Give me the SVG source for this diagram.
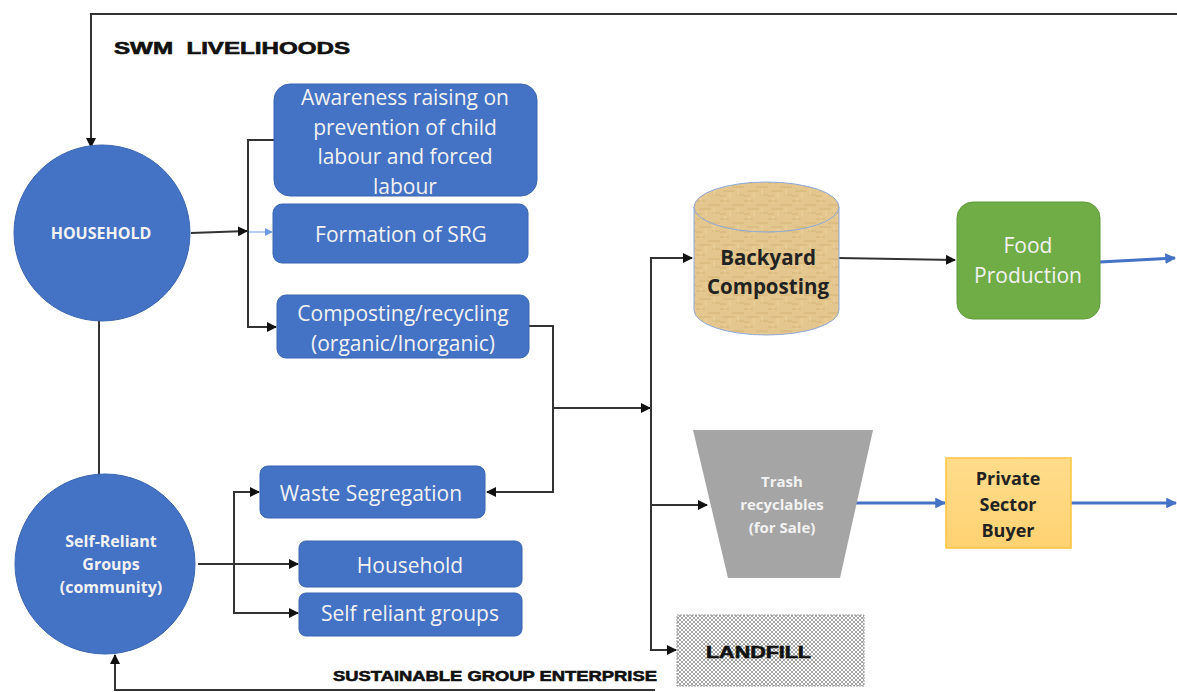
<svg xmlns="http://www.w3.org/2000/svg" width="1177" height="692" viewBox="0 0 1177 692">
<defs>
<style>
.box{fill:#4472C4;stroke:#3A65B0;stroke-width:1}
.bt{font-family:"Open Sans",Lato,sans-serif;font-size:21px;fill:#F2F2F2;text-anchor:middle;dominant-baseline:central}
.ct{font-family:"Open Sans",Lato,sans-serif;font-weight:bold;fill:#F2F2F2;text-anchor:middle;dominant-baseline:central}
.hd{font-family:"Liberation Sans",Arial,sans-serif;font-weight:bold;fill:#111;stroke:#111;stroke-width:0.6;dominant-baseline:central}
.dk{font-family:"Open Sans",Lato,sans-serif;font-weight:bold;fill:#222;text-anchor:middle;dominant-baseline:central}
.ln{fill:none;stroke:#333;stroke-width:2}
.bl{fill:none;stroke:#4472C4;stroke-width:3}
</style>
<marker id="ah" viewBox="0 0 10 10" refX="9" refY="5" markerWidth="5" markerHeight="5" orient="auto-start-reverse" markerUnits="strokeWidth"><path d="M0 0 L10 5 L0 10 z" fill="#111"/></marker>
<marker id="ab" viewBox="0 0 10 10" refX="9" refY="5" markerWidth="3.6" markerHeight="3.6" orient="auto" markerUnits="strokeWidth"><path d="M0 0 L10 5 L0 10 z" fill="#4472C4"/></marker>
<marker id="al" viewBox="0 0 10 10" refX="9" refY="5" markerWidth="8" markerHeight="8" orient="auto" markerUnits="strokeWidth"><path d="M0 0 L10 5 L0 10 z" fill="#6F9BE0"/></marker>
<pattern id="hatch" width="4" height="4" patternUnits="userSpaceOnUse">
<rect width="4" height="4" fill="#FFFFFF"/>
<path d="M0 4 L4 0 M0 0 L4 4" stroke="#8C8C8C" stroke-width="0.8"/>
</pattern>
<pattern id="papyrus" width="24" height="18" patternUnits="userSpaceOnUse">
<rect width="24" height="18" fill="#E4C78E"/>
<path d="M0 3 H9 M12 7 H24 M3 11 H15 M16 15 H24 M0 16 H6" stroke="#C4A262" stroke-width="0.8" opacity="0.7"/>
<path d="M5 0 V5 M18 9 V16 M10 12 V18" stroke="#F0DCB0" stroke-width="0.8" opacity="0.7"/>
</pattern>
<linearGradient id="og" x1="0" y1="0" x2="0" y2="1">
<stop offset="0" stop-color="#FFDC8C"/>
<stop offset="1" stop-color="#FFD272"/>
</linearGradient>
</defs>
<rect width="1177" height="692" fill="#FFFFFF"/>

<g id="connectors">
<path class="ln" d="M1177 14 H91 V147" stroke-width="1.8" marker-end="url(#ah)"/>
<path class="ln" d="M99 320 V475" stroke="#555"/>
<path class="ln" d="M191 233 L247 231" marker-end="url(#ah)"/>
<path d="M249 232 H272" fill="none" stroke="#6F9BE0" stroke-width="1" marker-end="url(#al)"/>
<path class="ln" d="M275 140 H248 V327 H276" marker-end="url(#ah)"/>
<path class="ln" d="M529 326 H553 V492 H487" marker-end="url(#ah)"/>
<path class="ln" d="M553 408 H650" stroke="#666" marker-end="url(#ah)"/>
<path class="ln" d="M651 650 V258 H692" stroke="#666" marker-end="url(#ah)"/>
<path class="ln" d="M651 640 V650 H676" stroke="#666" marker-end="url(#ah)"/>
<path class="ln" d="M651 505 H707" stroke="#666" marker-end="url(#ah)"/>
<path class="ln" d="M839 258 L955 260" marker-end="url(#ah)"/>
<path class="bl" d="M1100 262 L1175 258" marker-end="url(#ab)"/>
<path class="bl" d="M855 503 H945" marker-end="url(#ab)"/>
<path class="bl" d="M1071 503 H1176" marker-end="url(#ab)"/>
<path class="ln" d="M198 564 H298" marker-end="url(#ah)"/>
<path class="ln" d="M259 492 H234 V613 H298" marker-start="url(#ah)" marker-end="url(#ah)"/>
<path class="ln" d="M655 690 H115 V655" marker-end="url(#ah)"/>
</g>

<g id="title">
<text class="hd" x="114" y="48" font-size="17" textLength="236" lengthAdjust="spacingAndGlyphs" xml:space="preserve">SWM  LIVELIHOODS</text>
</g>
<g id="footer">
<text class="hd" x="333" y="675" font-size="15" textLength="324" lengthAdjust="spacingAndGlyphs">SUSTAINABLE GROUP ENTERPRISE</text>
</g>

<g id="household">
<circle cx="102" cy="233" r="88" fill="#4472C4" stroke="#3A65B0"/>
<text class="ct" x="101" y="233" font-size="16">HOUSEHOLD</text>
</g>

<g id="srg">
<circle cx="105" cy="564" r="90" fill="#4472C4" stroke="#3A65B0"/>
<text class="ct" x="111" y="541" font-size="16">Self-Reliant</text>
<text class="ct" x="111" y="564" font-size="16">Groups</text>
<text class="ct" x="111" y="587" font-size="16">(community)</text>
</g>

<g id="awareness">
<rect class="box" x="274" y="84" width="263" height="112" rx="16"/>
<text class="bt" x="405" y="97">Awareness raising on</text>
<text class="bt" x="405" y="127">prevention of child</text>
<text class="bt" x="405" y="156">labour and forced</text>
<text class="bt" x="405" y="186">labour</text>
</g>

<g id="formation">
<rect class="box" x="273" y="204" width="255" height="59" rx="9"/>
<text class="bt" x="401" y="234">Formation of SRG</text>
</g>

<g id="composting">
<rect class="box" x="277" y="295" width="252" height="63" rx="9"/>
<text class="bt" x="403" y="313">Composting/recycling</text>
<text class="bt" x="403" y="343">(organic/Inorganic)</text>
</g>

<g id="waste-segregation">
<rect class="box" x="260" y="466" width="225" height="52" rx="8"/>
<text class="bt" x="371" y="493">Waste Segregation</text>
</g>

<g id="household-box">
<rect class="box" x="299" y="541" width="223" height="46" rx="7"/>
<text class="bt" x="410" y="565">Household</text>
</g>

<g id="self-reliant-box">
<rect class="box" x="299" y="593" width="223" height="43" rx="7"/>
<text class="bt" x="410" y="613">Self reliant groups</text>
</g>

<g id="backyard">
<path d="M694 207 V310 A72.5 25 0 0 0 839 310 V207" fill="url(#papyrus)" stroke="#8EA9DB" stroke-width="1"/>
<ellipse cx="766.5" cy="207" rx="72.5" ry="25" fill="url(#papyrus)" stroke="#8EA9DB" stroke-width="1"/>
<text class="dk" x="768" y="257" font-size="20.5">Backyard</text>
<text class="dk" x="768" y="286" font-size="20.5">Composting</text>
</g>

<g id="food">
<rect x="957" y="202" width="143" height="117" rx="16" fill="#70AD47" stroke="#5E9A3A"/>
<text class="bt" x="1028" y="245">Food</text>
<text class="bt" x="1028" y="275">Production</text>
</g>

<g id="trash">
<path d="M693 430 H873 L840 578 H728 Z" fill="#A5A5A5"/>
<text class="ct" x="782" y="481" font-size="15">Trash</text>
<text class="ct" x="782" y="504" font-size="15">recyclables</text>
<text class="ct" x="782" y="527" font-size="15">(for Sale)</text>
</g>

<g id="buyer">
<rect x="946" y="458" width="125" height="90" fill="url(#og)" stroke="#FFC53D" stroke-width="1.5"/>
<text class="dk" x="1008" y="478" font-size="18">Private</text>
<text class="dk" x="1008" y="504" font-size="18">Sector</text>
<text class="dk" x="1008" y="530" font-size="18">Buyer</text>
</g>

<g id="landfill">
<rect x="677" y="615" width="187" height="71" fill="url(#hatch)" stroke="#9A9A9A" stroke-width="1" stroke-dasharray="2 1"/>
<text class="hd" x="706" y="652" font-size="17" textLength="105" lengthAdjust="spacingAndGlyphs">LANDFILL</text>
</g>
</svg>
